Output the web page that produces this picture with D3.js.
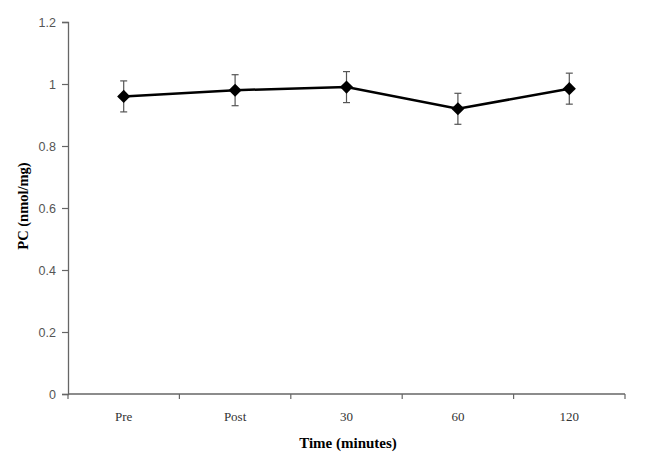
<!DOCTYPE html>
<html>
<head>
<meta charset="utf-8">
<script src="https://cdn.jsdelivr.net/npm/d3@7"></script>
<style>
  body { margin: 0; background: #fff; }
  svg { display: block; }
</style>
</head>
<body>
<div id="chart"></div>
<script>
// data
let categories = ['Pre', 'Post', '30', '60', '120'];
let means = [0.96, 0.98, 0.99, 0.92, 0.985];
let errors = [0.05, 0.05, 0.05, 0.05, 0.05];
let yTicks = [0, 0.2, 0.4, 0.6, 0.8, 1, 1.2];

let width = 645, height = 469;
let margin = {top: 22, right: 20, bottom: 75, left: 68};
let plotW = 625 - margin.left;
let plotH = 394 - margin.top;

function translate(x, y) {
    return 'translate(' + x + ',' + y + ')';
}

let svg = d3.select('#chart').append('svg')
    .attr('width', width)
    .attr('height', height)
    .append('g')
    .attr('transform', translate(margin.left, margin.top));

let x = d3.scaleBand().domain(categories).range([0, plotW]);
let y = d3.scaleLinear().domain([0, 1.2]).range([plotH, 0]);

// y axis
let yAxis = svg.append('g')
    .call(d3.axisLeft(y).tickValues(yTicks).tickSize(6).tickPadding(6)
        .tickFormat(d => d3.format('~g')(d)));
yAxis.select('.domain').attr('stroke', '#666').attr('stroke-width', 1.3);
yAxis.selectAll('.tick line').attr('stroke', '#666').attr('stroke-width', 1.2);
yAxis.selectAll('text')
    .style('font-family', 'Liberation Sans, Arial, sans-serif')
    .style('font-size', '12.5px')
    .attr('fill', '#555');

// x axis, ticks at band edges
let xAxis = svg.append('g').attr('transform', translate(0, plotH));
xAxis.append('line')
    .attr('x1', 0).attr('x2', plotW)
    .attr('stroke', '#666').attr('stroke-width', 1.3);
let edges = categories.map(c => x(c)).concat([plotW]);
xAxis.selectAll('.edgeTick')
    .data(edges)
    .enter().append('line')
    .attr('class', 'edgeTick')
    .attr('x1', d => d).attr('x2', d => d)
    .attr('y1', 0).attr('y2', 5)
    .attr('stroke', '#666').attr('stroke-width', 1.2);
xAxis.selectAll('.catLabel')
    .data(categories)
    .enter().append('text')
    .attr('class', 'catLabel')
    .attr('x', d => x(d) + x.bandwidth() / 2)
    .attr('y', 27)
    .attr('text-anchor', 'middle')
    .style('font-family', 'Liberation Serif, Times New Roman, serif')
    .style('font-size', '13px')
    .attr('fill', '#333')
    .text(d => d);

let cx = d => x(d) + x.bandwidth() / 2;

// error bars
let bars = svg.selectAll('.err')
    .data(categories)
    .enter().append('g')
    .attr('class', 'err')
    .attr('stroke', '#555')
    .attr('stroke-width', 1.2);
bars.append('line')
    .attr('x1', cx).attr('x2', cx)
    .attr('y1', (d, i) => y(means[i] + errors[i]))
    .attr('y2', (d, i) => y(means[i] - errors[i]));
bars.append('line')
    .attr('x1', d => cx(d) - 3.5).attr('x2', d => cx(d) + 3.5)
    .attr('y1', (d, i) => y(means[i] + errors[i]))
    .attr('y2', (d, i) => y(means[i] + errors[i]));
bars.append('line')
    .attr('x1', d => cx(d) - 3.5).attr('x2', d => cx(d) + 3.5)
    .attr('y1', (d, i) => y(means[i] - errors[i]))
    .attr('y2', (d, i) => y(means[i] - errors[i]));

// line
let line = d3.line()
    .x((d, i) => cx(categories[i]))
    .y(d => y(d));
svg.append('path')
    .datum(means)
    .attr('d', line)
    .attr('fill', 'none')
    .attr('stroke', '#000')
    .attr('stroke-width', 2.5);

// diamond markers
svg.selectAll('.marker')
    .data(means)
    .enter().append('path')
    .attr('class', 'marker')
    .attr('d', d3.symbol().type(d3.symbolDiamond2).size(110))
    .attr('transform', (d, i) => translate(cx(categories[i]), y(d)))
    .attr('fill', '#000');

// axis titles
svg.append('text')
    .attr('transform', translate(-40, plotH / 2 - 2) + ' rotate(-90)')
    .attr('text-anchor', 'middle')
    .style('font-family', 'Liberation Serif, Times New Roman, serif')
    .style('font-weight', 'bold')
    .style('font-size', '14.5px')
    .text('PC (nmol/mg)');

svg.append('text')
    .attr('x', 348 - margin.left)
    .attr('y', plotH + 54)
    .attr('text-anchor', 'middle')
    .style('font-family', 'Liberation Serif, Times New Roman, serif')
    .style('font-weight', 'bold')
    .style('font-size', '15px')
    .text('Time (minutes)');
</script>
</body>
</html>
